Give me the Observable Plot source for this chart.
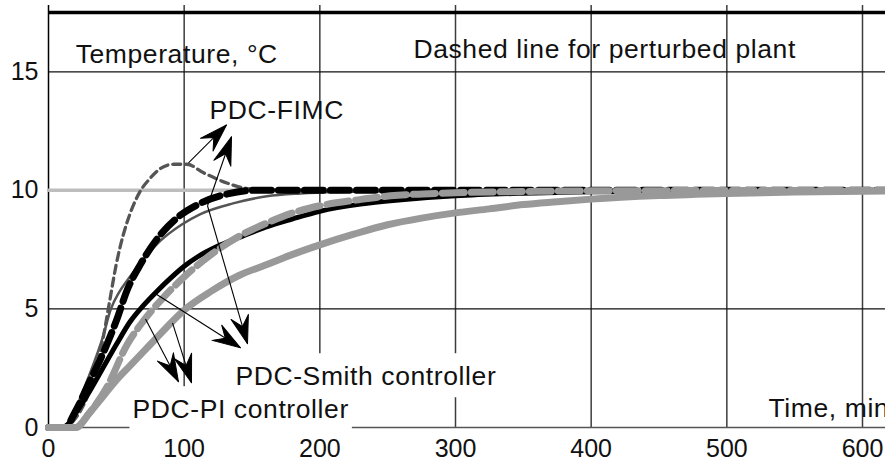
<!DOCTYPE html>
<html><head><meta charset="utf-8">
<script src="https://cdn.jsdelivr.net/npm/d3@7"></script>
<script src="https://cdn.jsdelivr.net/npm/@observablehq/plot@0.6"></script>
<style>
body{margin:0;background:#fff}
</style></head><body><div id="chart"></div>
<script>
// ---- axis ticks & grid ----
const xTicks = [0, 100, 200, 300, 400, 500, 600];
const yTicks = [0, 5, 10, 15];
const gridX = [100, 200, 300, 400, 500, 600];
const gridY = [5, 15];
const topLevel = 17.5;

// ---- series (time in min, temperature in °C) ----
const setpointT = [0, 617];
const setpointV = [10, 10];

const fimcNomT = [0, 12, 20, 30, 40, 46, 52, 58, 70, 82, 98, 112, 136, 161, 186, 220, 260, 300, 617];
const fimcNomV = [0, 0, 0.8, 2.2, 3.8, 5.0, 5.7, 6.2, 7.1, 7.85, 8.55, 9.0, 9.45, 9.75, 9.87, 9.94, 9.98, 10, 10];

const fimcPertT = [0, 12, 20, 25, 30, 35, 40, 45, 50, 55, 60, 68, 74, 82, 92, 102, 114, 132, 144, 160, 200];
const fimcPertV = [0, 0, 0.4, 0.85, 1.5, 2.5, 3.7, 5.3, 6.9, 8.1, 9.0, 10.0, 10.45, 10.9, 11.1, 11.1, 10.75, 10.3, 10.1, 10.02, 10.0];

const smithNomT = [0, 11, 20, 30, 40, 50, 60, 70, 80, 90, 100, 110, 125, 140, 160, 180, 200, 230, 260, 300, 350, 400, 500, 617];
const smithNomV = [0, 0, 0.6, 1.5, 2.5, 3.5, 4.45, 5.15, 5.75, 6.3, 6.8, 7.2, 7.65, 8.0, 8.45, 8.8, 9.12, 9.42, 9.6, 9.77, 9.88, 9.94, 9.98, 10];

const smithPertT = [0, 12, 20, 30, 40, 50, 58, 68, 80, 95, 110, 132, 151, 617];
const smithPertV = [0, 0, 0.7, 1.9, 3.1, 4.5, 5.8, 6.9, 7.95, 8.85, 9.4, 9.85, 10.0, 10.0];

const piNomT = [0, 20, 30, 40, 50, 60, 70, 80, 90, 100, 120, 140, 160, 180, 200, 225, 250, 275, 300, 325, 350, 375, 400, 450, 500, 550, 617];
const piNomV = [0, 0, 0.6, 1.3, 2.0, 2.6, 3.2, 3.8, 4.4, 4.95, 5.75, 6.4, 6.85, 7.3, 7.7, 8.15, 8.55, 8.83, 9.05, 9.22, 9.4, 9.52, 9.63, 9.78, 9.87, 9.93, 9.97];

const piPertT = [0, 20, 30, 43, 58, 70, 85, 100, 120, 140, 160, 180, 200, 228, 252, 276, 300, 350, 400, 617];
const piPertV = [0, 0, 0.6, 1.7, 3.5, 4.5, 5.5, 6.35, 7.3, 8.05, 8.6, 9.05, 9.35, 9.6, 9.77, 9.85, 9.9, 9.95, 9.98, 10];

// ---- annotations ----
const labelText = ["Temperature, °C", "Dashed line for perturbed plant", "PDC-FIMC", "Time, min"];
const labelT = [20, 269, 118.7, 530.7];
const labelV = [15.72, 15.96, 13.38, 0.79];

const boxedText = ["PDC-Smith controller", "PDC-PI controller"];
const boxedT = [137.8, 61.9];
const boxedV = [2.14, 0.75];

const arrowFromT = [103.2, 117.2, 117.2, 78.9, 71.5, 91.4];
const arrowFromV = [11.16, 9.35, 9.35, 5.64, 4.58, 4.41];
const arrowToT   = [131.2, 134.9, 146.7, 141.5, 95.8, 105.4];
const arrowToV   = [12.76, 12.26, 3.53, 3.36, 1.93, 1.89];

// ---- layout ----
const W = 885, H = 461, ML = 48, MR = 23, MT = 12, MB = 34;
const kx = (W - ML - MR) / 600, ky = (H - MT - MB) / topLevel;

const rows = (t, v) => t.map((d, i) => ({t: d, v: v[i]}));
const labels = labelText.map((s, i) => ({s, t: labelT[i], v: labelV[i]}));
const boxed = boxedText.map((s, i) => ({s, t: boxedT[i], v: boxedV[i]}));
const arrows = arrowFromT.map((d, i) => {
  const dx = (arrowToT[i] - d) * kx, dy = -(arrowToV[i] - arrowFromV[i]) * ky;
  return {t1: d, v1: arrowFromV[i], t2: arrowToT[i], v2: arrowToV[i], a: Math.atan2(dx, -dy) * 180 / Math.PI};
});

const stealth = {
  draw(context, l) {
    const w = 9;
    context.moveTo(0, -l);
    context.lineTo(w, 0);
    context.lineTo(0, -l * 0.36);
    context.lineTo(-w, 0);
    context.closePath();
  }
};

const line = (t, v, o) => Plot.line(rows(t, v), {x: "t", y: "v", curve: "monotone-x", ...o});

const plot = Plot.plot({
  width: W, height: H,
  marginLeft: ML, marginRight: MR, marginTop: MT, marginBottom: MB,
  x: {domain: [0, 600], label: null},
  y: {domain: [0, topLevel], label: null},
  style: {fontFamily: "'Liberation Sans', Arial, sans-serif", fontSize: "25px", color: "#111", background: "white", overflow: "hidden"},
  marks: [
    Plot.ruleX(gridX, {y1: 0, y2: 17.8, stroke: "#3c3c3c", strokeWidth: 1.5}),
    Plot.ruleY(gridY, {x1: 0, x2: 617, stroke: "#111", strokeWidth: 1.3}),
    Plot.ruleX([0], {y1: 0, y2: 17.8, stroke: "#000", strokeWidth: 1.5}),
    Plot.ruleY([0], {x1: 0, x2: 617, stroke: "#555", strokeWidth: 1.5}),
    Plot.ruleY([topLevel], {x1: 0, x2: 617, stroke: "#000", strokeWidth: 3.5}),
    line(setpointT, setpointV, {stroke: "#bdbdbd", strokeWidth: 3.5}),
    line(fimcPertT, fimcPertV, {stroke: "#555", strokeWidth: 3.3, strokeDasharray: "8,5"}),
    line(fimcNomT, fimcNomV, {stroke: "#555", strokeWidth: 2.5}),
    line(smithPertT, smithPertV, {stroke: "#000", strokeWidth: 7, strokeDasharray: "19,7"}),
    line(smithNomT, smithNomV, {stroke: "#000", strokeWidth: 5}),
    line(piNomT, piNomV, {stroke: "#999", strokeWidth: 7}),
    line(piPertT, piPertV, {stroke: "#999", strokeWidth: 7, strokeDasharray: "22,7"}),
    Plot.axisX({ticks: xTicks, tickSize: 0, tickPadding: 12, label: null, fill: "#111"}),
    Plot.axisY({ticks: yTicks, tickSize: 0, tickPadding: 10, label: null, fill: "#111"}),
    Plot.text(labels, {x: "t", y: "v", text: "s", textAnchor: "start", lineAnchor: "middle", fontSize: 26.5, fill: "#111"}),
    Plot.text(boxed, {x: "t", y: "v", text: "s", textAnchor: "start", lineAnchor: "middle", fontSize: 26.5, fill: "#111"}),
    Plot.link(arrows, {x1: "t1", y1: "v1", x2: "t2", y2: "v2", stroke: "#000", strokeWidth: 1.1}),
    Plot.vector(arrows, {x: "t2", y: "v2", rotate: "a", length: 28, anchor: "end", shape: stealth, fill: "#000", stroke: "#000", strokeWidth: 1})
  ]
});
document.getElementById("chart").append(plot);

// widen annotation lettering and put white frames behind the two controller labels
plot.querySelectorAll("text").forEach(t => {
  const s = t.textContent;
  if (labelText.includes(s) || boxedText.includes(s)) t.style.letterSpacing = "0.6px";
  if (boxedText.includes(s)) {
    const b = t.getBBox();
    const r = document.createElementNS("http://www.w3.org/2000/svg", "rect");
    r.setAttribute("x", b.x - 3);
    r.setAttribute("y", b.y - 8);
    r.setAttribute("width", b.width + 6);
    r.setAttribute("height", b.height + 14);
    r.setAttribute("fill", "white");
    const tr = t.getAttribute("transform");
    if (tr) r.setAttribute("transform", tr);
    t.parentNode.insertBefore(r, t);
  }
});
</script></body></html>
